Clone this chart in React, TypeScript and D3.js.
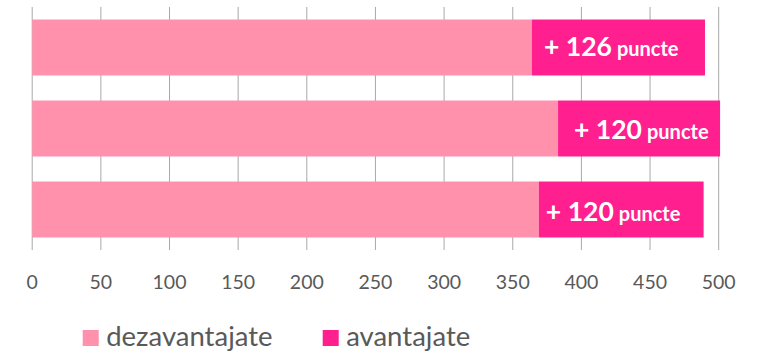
import React from "react";
import * as d3 from "d3";

const categories = ["r1", "r2", "r3"];
const dezavantajate = [364, 383, 369];
const avantajate = [126, 118, 120];
const labelValues = ["126", "120", "120"];
const xTicks = [0, 50, 100, 150, 200, 250, 300, 350, 400, 450, 500];
const seriesNames = ["dezavantajate", "avantajate"];

const labelDx = [12, 16, 7];
const labelDy = [8, 10, 11];

const W = 765;
const H = 354;
const FONT = "Lato, 'Open Sans', sans-serif";
const LIGHT = "#FF91AD";
const DARK = "#FF1F8E";
const TEXT = "#595959";
const GRID = "#A9A9A9";

export default function App() {
  const x = d3.scaleLinear().domain([0, 500]).range([32.2, 718.7]);
  const y = d3
    .scaleBand<string>()
    .domain(categories)
    .range([7, 250])
    .paddingInner(0.309)
    .paddingOuter(0.1545);
  const bh = y.bandwidth();

  return (
    <svg
      width={W}
      height={H}
      style={{ position: "absolute", left: 0, top: 0, background: "#fff" }}
      fontFamily={FONT}
    >
      {xTicks.map((t) => (
        <line
          key={"g" + t}
          x1={x(t)}
          x2={x(t)}
          y1={7}
          y2={250}
          stroke={GRID}
          strokeWidth={1}
        />
      ))}
      {categories.map((c, i) => {
        const y0 = y(c)!;
        const x0 = x(0);
        const x1 = x(dezavantajate[i]);
        const x2 = x(dezavantajate[i] + avantajate[i]);
        return (
          <g key={c}>
            <rect x={x0} y={y0} width={x1 - x0} height={bh} fill={LIGHT} />
            <rect x={x1} y={y0} width={x2 - x1} height={bh} fill={DARK} />
            <text
              x={x1 + labelDx[i]}
              y={y0 + bh / 2 + labelDy[i]}
              fill="#fff"
              fontWeight={700}
              fontSize={26.5}
            >
              + {labelValues[i]}
              <tspan fontSize={20} dx={5}>
                puncte
              </tspan>
            </text>
          </g>
        );
      })}
      {xTicks.map((t) => (
        <text
          key={"t" + t}
          x={x(t)}
          y={289}
          textAnchor="middle"
          fill={TEXT}
          fontSize={19.5}
        >
          {t}
        </text>
      ))}
      {seriesNames.map((s, i) => {
        const lx = [82.7, 322.7][i];
        return (
          <g key={s}>
            <rect x={lx} y={330} width={16} height={16} fill={i === 0 ? LIGHT : DARK} />
            <text x={lx + 23.5} y={345.7} fill={TEXT} fontSize={27.5}>
              {s}
            </text>
          </g>
        );
      })}
    </svg>
  );
}
